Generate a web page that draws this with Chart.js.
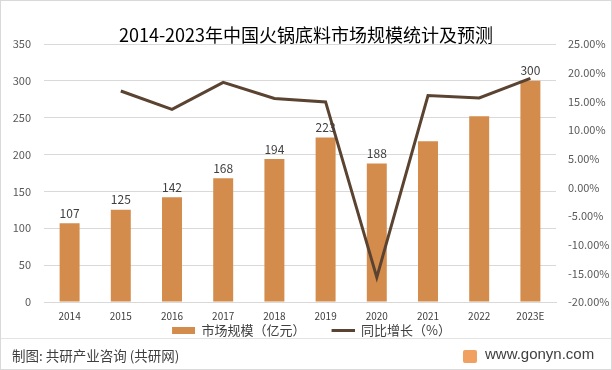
<!DOCTYPE html>
<html>
<head>
<meta charset="utf-8">
<script src="https://cdn.jsdelivr.net/npm/chart.js@4/dist/chart.umd.min.js"></script>
<style>
  html, body { margin: 0; padding: 0; background: #fff; }
  #wrap { position: relative; width: 612px; height: 370px; box-sizing: border-box; border: 1px solid #d9d9d9; overflow: hidden; }
  #wrap canvas { position: absolute; left: 0; top: 0; }
  #sep { position: absolute; left: 0; right: 0; top: 337px; height: 1px; background: #e3e3e3; }
  #src { position: absolute; left: 11px; top: 344px; font: 13.5px "Noto Sans CJK SC", sans-serif; color: #404040; }
  #site { position: absolute; left: 484px; top: 344px; font: 15px "Liberation Sans", Arial, sans-serif; color: #404040; }
  #logo { position: absolute; left: 462px; top: 349px; width: 14px; height: 13px; background: #f0a060; border-radius: 2px; }
</style>
</head>
<body>
<div id="wrap">
  <canvas id="chart" width="610" height="368"></canvas>
  <div id="sep"></div>
  <div id="src">制图: 共研产业咨询 (共研网)</div>
  <div id="logo"></div>
  <div id="site">www.gonyn.com</div>
</div>
<script>
// ----- DATA -----
const years = ['2014','2015','2016','2017','2018','2019','2020','2021','2022','2023E'];
const marketSize = [107, 125, 142, 168, 194, 223, 188, 218, 252, 300];
const sizeLabels = ['107','125','142','168','194','223','188', null, null, '300'];
const growth = [null, 16.8, 13.6, 18.3, 15.5, 14.9, -15.7, 16.0, 15.6, 19.0];
const leftTicks = [0, 50, 100, 150, 200, 250, 300, 350];
const rightTicks = [-20, -15, -10, -5, 0, 5, 10, 15, 20, 25];

const barColor = '#d38c4b';
const lineColor = '#5b4332';
const cjk = '"Noto Sans CJK SC", sans-serif';

// legend swatches (transparent left part gives the gap between items)
function swatch(color, h) {
  const c = document.createElement('canvas');
  c.width = 47; c.height = h;
  const g = c.getContext('2d');
  g.fillStyle = color;
  g.fillRect(24, 0, 23, h);
  return c;
}
const barSwatch = swatch(barColor, 7);
const lineSwatch = swatch(lineColor, 3);

// value labels above bars
const barLabels = {
  id: 'barLabels',
  afterDatasetsDraw(chart) {
    const ctx = chart.ctx;
    const meta = chart.getDatasetMeta(0);
    ctx.save();
    ctx.font = '12px ' + cjk;
    ctx.fillStyle = '#404040';
    ctx.textAlign = 'center';
    ctx.textBaseline = 'bottom';
    meta.data.forEach((bar, i) => {
      if (sizeLabels[i]) ctx.fillText(sizeLabels[i], bar.x, bar.y - 4);
    });
    ctx.restore();
  }
};

new Chart(document.getElementById('chart'), {
  data: {
    labels: years,
    datasets: [
      {
        type: 'bar',
        label: '市场规模（亿元）',
        data: marketSize,
        backgroundColor: barColor,
        barPercentage: 0.39,
        categoryPercentage: 1,
        yAxisID: 'y',
        order: 2,
        pointStyle: barSwatch
      },
      {
        type: 'line',
        label: '同比增长（%）\u3000\u2002',
        data: growth,
        borderColor: lineColor,
        backgroundColor: lineColor,
        borderWidth: 3,
        pointRadius: 0,
        tension: 0,
        yAxisID: 'y1',
        order: 1,
        pointStyle: lineSwatch
      }
    ]
  },
  options: {
    responsive: false,
    animation: false,
    layout: { padding: { left: 0, right: 0, top: 0, bottom: 22 } },
    plugins: {
      title: {
        display: true,
        text: '2014-2023年中国火锅底料市场规模统计及预测',
        color: '#000',
        font: { family: cjk, size: 18, weight: 'normal', lineHeight: 1 },
        padding: { top: 25, bottom: 0 }
      },
      legend: {
        position: 'bottom',
        labels: {
          usePointStyle: true,
          pointStyleWidth: 47,
          padding: 2,
          color: '#404040',
          font: { family: cjk, size: 13 },
          sort: (a, b) => a.datasetIndex - b.datasetIndex
        }
      },
      tooltip: { enabled: false }
    },
    scales: {
      x: {
        grid: { display: false },
        border: { color: '#d9d9d9' },
        ticks: { color: '#404040', font: { family: cjk, size: 10 }, padding: 0, maxRotation: 0 }
      },
      y: {
        position: 'left',
        min: 0, max: 350,
        afterBuildTicks: s => { s.ticks = leftTicks.map(v => ({ value: v })); },
        afterFit: s => { s.width = 43; },
        grid: { color: '#d9d9d9', drawTicks: false },
        border: { display: false },
        ticks: { color: '#595959', font: { family: cjk, size: 11 }, padding: 13 }
      },
      y1: {
        position: 'right',
        min: -20, max: 25,
        afterBuildTicks: s => { s.ticks = rightTicks.map(v => ({ value: v })); },
        afterFit: s => { s.width = 55; },
        grid: { display: false, drawTicks: false },
        border: { display: false },
        ticks: {
          color: '#595959', font: { family: cjk, size: 11 }, padding: 12,
          callback: v => v.toFixed(2) + '%'
        }
      }
    }
  },
  plugins: [barLabels]
});
</script>
</body>
</html>
